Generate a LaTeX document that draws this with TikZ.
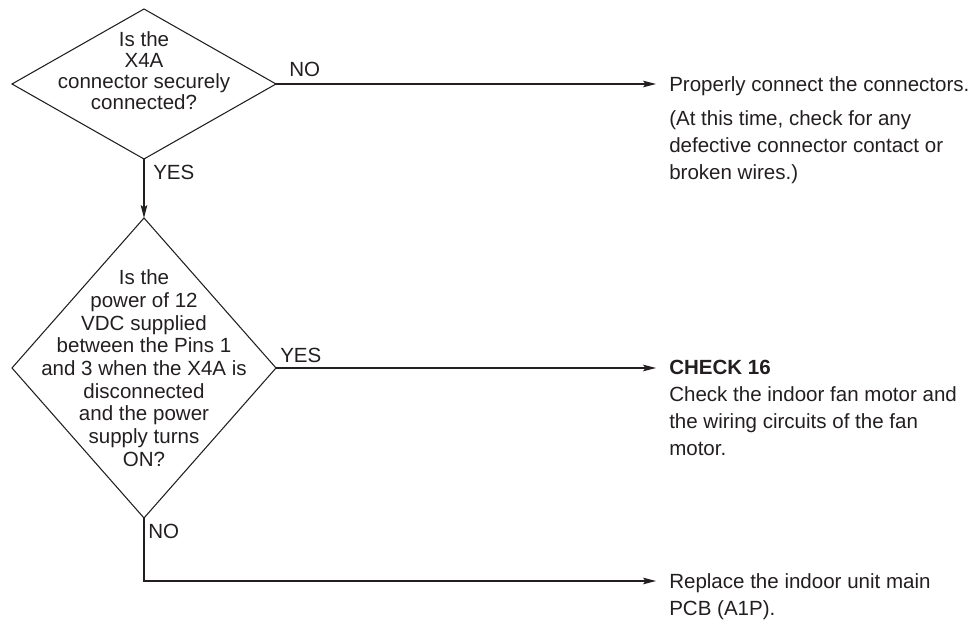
\documentclass[tikz,border=0pt]{standalone}
\usepackage{fontspec}
\setmainfont{Liberation Sans}
\usetikzlibrary{arrows.meta,shapes.geometric,calc}
\definecolor{fcink}{HTML}{231F20}
\tikzset{
  fcdecide/.style={draw=fcink, shape=diamond, line width=0.8pt, minimum width=198pt,
    inner sep=0pt, outer sep=0pt},
  fcask/.style={align=center, inner sep=0pt, text=fcink},
  fcnote/.style={align=left, anchor=north west, inner xsep=9.75pt, inner ysep=0pt, text=fcink},
  fclabel/.style={anchor=base west, inner sep=0pt, text=fcink},
  fcarrow/.style={-{Stealth[length=9.75pt,width=5pt,inset=2pt]}, line width=0.8pt, draw=fcink}
}

\begin{document}
\begin{tikzpicture}[x=0.75pt, y=-0.75pt, font=\fontsize{15.4}{20.25}\selectfont]
\useasboundingbox (0,0) rectangle (976,623);
% decisions
\node[fcdecide, minimum height=112.5pt] (q1) at (144,84) {};
\node[fcdecide, minimum height=225pt] (q2) at (144,368) {};
\node[fcask, font=\fontsize{15.4}{15.75}\selectfont] (q1txt) at (144,71) {Is the\\X4A\\connector securely\\connected?};
\node[fcask, font=\fontsize{15.4}{17}\selectfont] (q2txt) at (q2) {Is the\\power of 12\\VDC supplied\\between the Pins 1\\and 3 when the X4A is\\disconnected\\and the power\\supply turns\\ON?};
% outcomes
\node[fcnote] (fix1) at (656,76) {Properly connect the connectors.\\[5.25pt](At this time, check for any\\defective connector contact or\\broken wires.)};
\node[fcnote] (chk16) at (656,360) {\textbf{CHECK 16}\\Check the indoor fan motor and\\the wiring circuits of the fan\\motor.};
\node[fcnote] (pcb) at (656,573) {Replace the indoor unit main\\PCB (A1P).};
% branch labels
\node[fclabel] (noA) at ($(q1.east)+(13,-7)$) {NO};
\node[fclabel] (yesA) at ($(q1.south)+(9,21)$) {YES};
\node[fclabel] (yesB) at ($(q2.east)+(4,-5)$) {YES};
\node[fclabel] (noB) at ($(q2.south)+(4,21)$) {NO};
% connectors
\coordinate (nobend) at (144,581);
\draw[fcarrow] (q1.south) -- (q2.north);
\draw[fcarrow] (q1.east) -- (q1.east -| fix1.west);
\draw[fcarrow] (q2.east) -- (q2.east -| chk16.west);
\draw[fcarrow] (q2.south) -- (nobend) -- (nobend -| pcb.west);
\end{tikzpicture}
\end{document}
